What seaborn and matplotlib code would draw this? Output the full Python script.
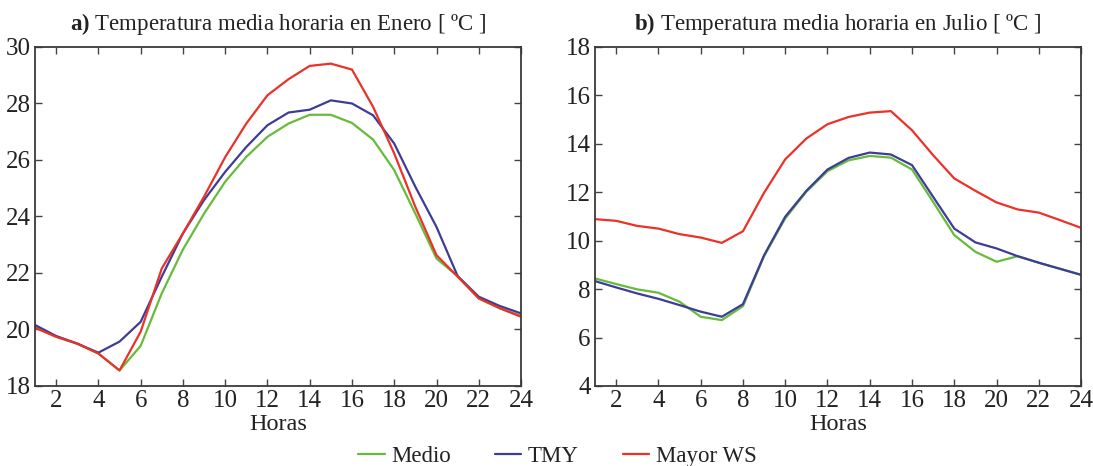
import numpy as np
import pandas as pd
import matplotlib
matplotlib.use("Agg")
import matplotlib.pyplot as plt
import seaborn as sns

horas = list(range(1, 25))

enero_medio = [20.10, 19.75, 19.50, 19.15, 18.55, 19.42, 21.28, 22.83, 24.10, 25.23, 26.11, 26.82,
               27.29, 27.60, 27.60, 27.31, 26.72, 25.64, 24.10, 22.51, 21.89, 21.10, 20.75, 20.48]
enero_tmy = [20.16, 19.77, 19.50, 19.18, 19.57, 20.27, 21.87, 23.40, 24.58, 25.58, 26.46, 27.23,
             27.68, 27.78, 28.11, 28.00, 27.58, 26.58, 25.05, 23.63, 21.89, 21.16, 20.83, 20.57]
enero_mayor = [20.06, 19.74, 19.50, 19.15, 18.55, 19.92, 22.16, 23.40, 24.70, 26.10, 27.29, 28.29,
               28.86, 29.33, 29.41, 29.20, 27.88, 26.23, 24.34, 22.63, 21.87, 21.10, 20.75, 20.45]

julio_medio = [8.44, 8.21, 7.99, 7.85, 7.48, 6.86, 6.72, 7.30, 9.36, 10.92, 12.02, 12.87,
               13.32, 13.50, 13.43, 12.94, 11.60, 10.23, 9.54, 9.13, 9.36, 9.09, 8.84, 8.59]
julio_tmy = [8.33, 8.07, 7.82, 7.60, 7.34, 7.07, 6.86, 7.38, 9.40, 10.99, 12.06, 12.94,
             13.42, 13.64, 13.56, 13.12, 11.81, 10.50, 9.93, 9.68, 9.36, 9.09, 8.84, 8.59]
julio_mayor = [10.89, 10.82, 10.61, 10.50, 10.27, 10.13, 9.91, 10.39, 11.98, 13.36, 14.22, 14.81,
               15.11, 15.29, 15.35, 14.56, 13.53, 12.57, 12.06, 11.58, 11.29, 11.16, 10.85, 10.53]

series_names = ["Medio", "TMY", "Mayor WS"]
colors = ["#66bb3a", "#3d3d98", "#ea3228"]
xticks = list(range(2, 25, 2))
yticks_a = list(range(18, 31, 2))
yticks_b = list(range(4, 19, 2))
titles = [r"$\bf{a)}$", r"$\bf{b)}$"]
title_texts = ["Temperatura media horaria en Enero [ ºC ]", "Temperatura media horaria en Julio [ ºC ]"]
xlabel = "Horas"


def long_df(vals):
    rows = []
    for name, v in zip(series_names, vals):
        for h, t in zip(horas, v):
            rows.append({"Horas": h, "T": t, "Serie": name})
    return pd.DataFrame(rows)


sns.set_style("ticks")
plt.rcParams["font.family"] = ["Liberation Serif", "DejaVu Serif"]
plt.rcParams["mathtext.fontset"] = "custom"
plt.rcParams["mathtext.rm"] = "Liberation Serif"
plt.rcParams["mathtext.bf"] = "Liberation Serif:bold"
plt.rcParams["xtick.direction"] = "in"
plt.rcParams["ytick.direction"] = "in"

fig = plt.figure(figsize=(10.93, 4.66), dpi=100)
ax1 = fig.add_axes([0.032, 0.1717, 0.4447, 0.7275])
ax2 = fig.add_axes([0.5444, 0.1717, 0.4447, 0.7275])

palette = dict(zip(series_names, colors))
data_sets = [
    (ax1, long_df([enero_medio, enero_tmy, enero_mayor]), yticks_a),
    (ax2, long_df([julio_medio, julio_tmy, julio_mayor]), yticks_b),
]

for i, (ax, df, yt) in enumerate(data_sets):
    sns.lineplot(data=df, x="Horas", y="T", hue="Serie", palette=palette, ax=ax,
                 linewidth=1.6, legend=(i == 0))
    ax.set_xlim(1, 24)
    ax.set_ylim(yt[0], yt[-1])
    ax.set_xticks(xticks)
    ax.set_yticks(yt)
    ax.tick_params(axis="both", which="both", direction="in", top=True, right=True,
                   length=5, width=1, color="#444444", labelsize=18, labelcolor="#222222", pad=3)
    for s in ax.spines.values():
        s.set_color("#3a3a3a")
        s.set_linewidth(1.3)
    ax.set_xlabel(xlabel, fontsize=17.5, color="#222222", labelpad=1)
    ax.set_ylabel("")
    ax.set_title(titles[i] + " " + title_texts[i], fontsize=16.5, color="#222222", pad=12)

handles, labels = ax1.get_legend_handles_labels()
ax1.get_legend().remove()
fig.legend(handles, labels, loc="center", bbox_to_anchor=(0.51, 0.02), ncol=3,
           frameon=False, fontsize=16.5, handlelength=1.15, handletextpad=0.3,
           columnspacing=1.9, labelcolor="#222222")

fig.savefig("out.png", dpi=100)
